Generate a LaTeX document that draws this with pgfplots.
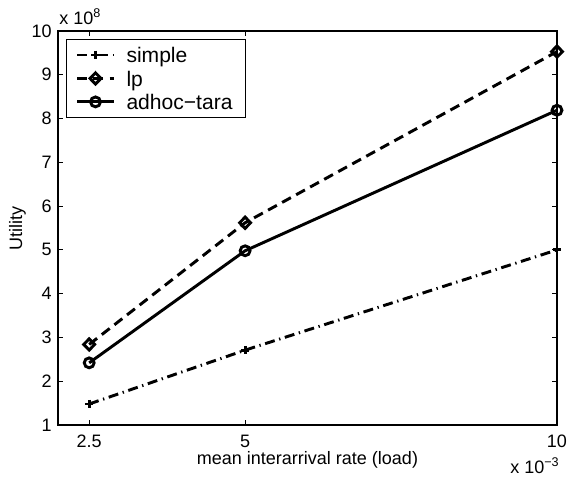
\documentclass[border=0pt]{standalone}
\usepackage{fontspec}
\setmainfont{Liberation Sans}
\usepackage{pgfplots}
\pgfplotsset{compat=1.18}

% 1 px of the reference = 0.75pt
\begin{document}
\fontsize{13.5}{16}\selectfont
\begin{tikzpicture}
\useasboundingbox (-43.5pt,-39.75pt) rectangle (384pt,318.75pt);
\begin{axis}[
	scale only axis,
	width=374.25pt, height=295.5pt,
	at={(0,0)}, anchor=south west,
	clip mode=individual,
	xmin=2, xmax=10, ymin=1, ymax=10,
	xtick={2.5,5,10}, ytick={1,2,...,10},
	tick align=inside, tick pos=both,
	major tick length=3.75pt,
	axis line style={line width=1.2pt},
	every tick/.style={black, line width=0.8pt},
	/pgf/number format/assume math mode=true,
	ticklabel style={font=\fontsize{13.5}{16}\selectfont},
	xticklabel style={anchor=base, yshift=-16.5pt},
	yticklabel style={anchor=east, inner sep=0pt, xshift=-4.5pt},
	xlabel={mean interarrival rate (load)},
	ylabel={Utility},
	xlabel style={at={(axis description cs:0.5,-0.1015)}, anchor=base},
	ylabel style={at={(axis description cs:-0.0721,0.5)}, anchor=base},
	legend style={at={([xshift=6pt,yshift=-6pt]rel axis cs:0,1)}, anchor=north west,
		draw=black, line width=0.75pt, font=\fontsize{15.8}{18}\selectfont,
		inner xsep=0pt, inner ysep=2.8pt, row sep=0pt, column sep=0pt,
		nodes={inner sep=0pt, text height=14.5pt, text depth=3.1pt}},
	legend cell align=left,
	legend image code/.code={
		\path[draw=none, fill=none] (-8.25pt,-8.8pt) rectangle (36.75pt,8.8pt);
		\draw[mark repeat=2,mark phase=2,#1] plot coordinates {(0pt,0pt) (13.5pt,0pt) (27pt,0pt)};},
]
\addplot[black, line width=2.2pt, dash pattern=on 7.5pt off 3.5pt on 1pt off 3.5pt,
	mark=+, mark size=3.2pt, mark options={solid}] coordinates {
	(2.5, 1.48)
	(5,   2.71)
	(10,  5.00)
};
\addplot[black, line width=2.2pt, dash pattern=on 7.5pt off 4.5pt,
	mark=diamond, mark size=4.2pt, mark options={solid, xscale=1.3}] coordinates {
	(2.5, 2.84)
	(5,   5.62)
	(10,  9.53)
};
\addplot[black, line width=2.2pt,
	mark=o, mark size=3.7pt, mark options={solid}] coordinates {
	(2.5, 2.42)
	(5,   4.98)
	(10,  8.19)
};
\legend{simple,lp,adhoc−tara\hspace*{10pt}}
\node[anchor=base west, inner sep=0pt] at ([xshift=0.75pt,yshift=5.25pt]rel axis cs:0,1) {x 10\textsuperscript{8}};
\node[anchor=base west, inner sep=0pt] at ([xshift=-35.25pt,yshift=-36pt]rel axis cs:1,0) {x 10\textsuperscript{−3}};
\end{axis}
\end{tikzpicture}
\end{document}
